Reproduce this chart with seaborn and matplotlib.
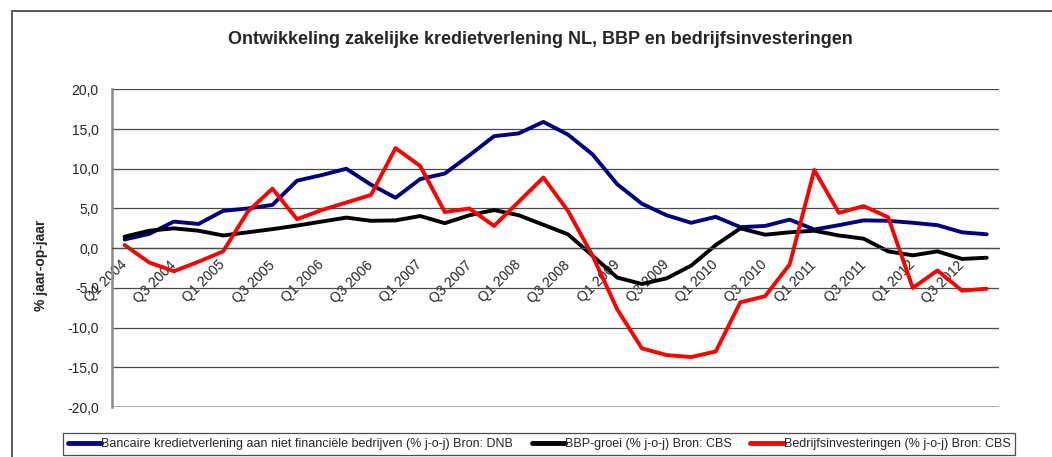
import matplotlib
matplotlib.use("Agg")
import matplotlib.pyplot as plt
import matplotlib.ticker as mticker
import numpy as np
import pandas as pd
import seaborn as sns
from matplotlib.patches import Rectangle

# Quarters Q1 2004 .. Q4 2012
quarters = [f"Q{q} {y}" for y in range(2004, 2013) for q in range(1, 5)]

krediet = [1.1, 1.8, 3.35, 3.05, 4.7, 5.0, 5.45, 8.5, 9.2, 10.0, 8.0, 6.35,
           8.7, 9.4, 11.7, 14.1, 14.45, 15.9, 14.3, 11.8, 8.05, 5.6, 4.15, 3.2,
           3.95, 2.65, 2.8, 3.6, 2.35, 2.9, 3.5, 3.45, 3.2, 2.9, 2.0, 1.75]
bbp = [1.45, 2.2, 2.5, 2.2, 1.6, 2.0, 2.4, 2.85, 3.35, 3.85, 3.45, 3.5,
       4.05, 3.15, 4.15, 4.8, 4.15, 2.95, 1.75, -0.95, -3.7, -4.5, -3.8, -2.2,
       0.4, 2.5, 1.7, 2.0, 2.2, 1.6, 1.2, -0.4, -0.9, -0.4, -1.35, -1.2]
investeringen = [0.4, -1.8, -2.9, -1.7, -0.4, 4.6, 7.5, 3.65, 4.8, 5.75, 6.7, 12.6,
                 10.35, 4.55, 5.0, 2.8, 5.85, 8.9, 4.7, -0.95, -7.7, -12.6, -13.45, -13.7,
                 -13.0, -6.8, -6.05, -2.05, 9.85, 4.45, 5.3, 3.9, -5.0, -2.8, -5.35, -5.1]

series_names = [
    "Bancaire kredietverlening aan niet financiële bedrijven (% j-o-j) Bron: DNB",
    "BBP-groei (% j-o-j) Bron: CBS",
    "Bedrijfsinvesteringen (% j-o-j) Bron: CBS",
]
series_colors = ["#000080", "#000000", "#FF0000"]

df = pd.DataFrame({
    "idx": list(range(len(quarters))) * 3,
    "waarde": krediet + bbp + investeringen,
    "reeks": np.repeat(series_names, len(quarters)),
})

sns.set_style("white")
plt.rcParams["font.family"] = ["Liberation Sans", "DejaVu Sans"]

W, H = 1052, 457
fig = plt.figure(figsize=(W / 100, H / 100), dpi=100)
ax = fig.add_axes([112.3 / W, 1 - 407.1 / H, (999 - 112.3) / W, (407.1 - 89.3) / H])

sns.lineplot(data=df, x="idx", y="waarde", hue="reeks", hue_order=series_names,
             palette=series_colors, linewidth=2.8, ax=ax, legend=False)

ax.set_xlim(-0.5, len(quarters) - 0.5)
ax.set_ylim(-20, 20)

# y axis
ax.set_yticks(np.arange(-20, 21, 5))
ax.yaxis.set_major_formatter(mticker.FuncFormatter(lambda v, _: f"{v:.1f}".replace(".", ",")))
ax.yaxis.grid(True, color="#4a4a4a", linewidth=0.9)
ax.set_axisbelow(True)
ax.tick_params(axis="y", length=3.2, width=0.9, color="#4a4a4a", pad=6.5, labelsize=10)
ax.set_ylabel("")

# x axis at zero with boundary tick marks
ax.spines["bottom"].set_position(("data", 0))
ax.spines["bottom"].set_color("#4a4a4a")
ax.spines["bottom"].set_linewidth(0.9)
ax.spines["left"].set_color("#8c8c8c")
ax.spines["left"].set_linewidth(1.8)
ax.spines["top"].set_visible(False)
ax.spines["right"].set_visible(False)
ax.axhline(-20, color="#9a9a9a", linewidth=1.8, zorder=1)

ax.set_xticks(np.arange(-0.5, len(quarters), 1), minor=True)
ax.set_xticks(np.arange(0, len(quarters), 2))
ax.set_xticklabels(quarters[::2], rotation=45, ha="right", va="center",
                   rotation_mode="anchor", fontsize=10)
ax.tick_params(axis="x", which="major", length=0, pad=10.5)
ax.tick_params(axis="x", which="minor", length=3.2, width=0.9, color="#4a4a4a", direction="out")
ax.set_xlabel("")

fig.text(540 / W, 1 - 39.5 / H, "Ontwikkeling zakelijke kredietverlening NL, BBP en bedrijfsinvesteringen",
         ha="center", va="center", fontsize=13, fontweight="bold")
fig.text(41 / W, 1 - 265.5 / H, "% jaar-op-jaar", rotation=90, ha="center", va="center",
         fontsize=10, fontweight="bold")

# outer chart frame
fig.patches.append(Rectangle((11.5 / W, -0.1), 1.2, 1 - 11.2 / H + 0.1, transform=fig.transFigure,
                             fill=False, edgecolor="#404040", linewidth=1.2))

handles = [plt.Line2D([], [], color=c, linewidth=3.5) for c in series_colors]
leg = fig.legend(handles, series_names, loc="upper left", ncol=3, mode="expand",
                 bbox_to_anchor=(62.7 / W, 1 - 433.3 / H, (1015.3 - 62.7) / W, 0.0),
                 borderaxespad=0, fontsize=9, handlelength=2.65, handletextpad=0.0,
                 columnspacing=0.85, borderpad=0.4, fancybox=False, frameon=True)
leg.get_frame().set_edgecolor("#202020")
leg.get_frame().set_linewidth(0.9)

fig.savefig("out.png", dpi=100)
